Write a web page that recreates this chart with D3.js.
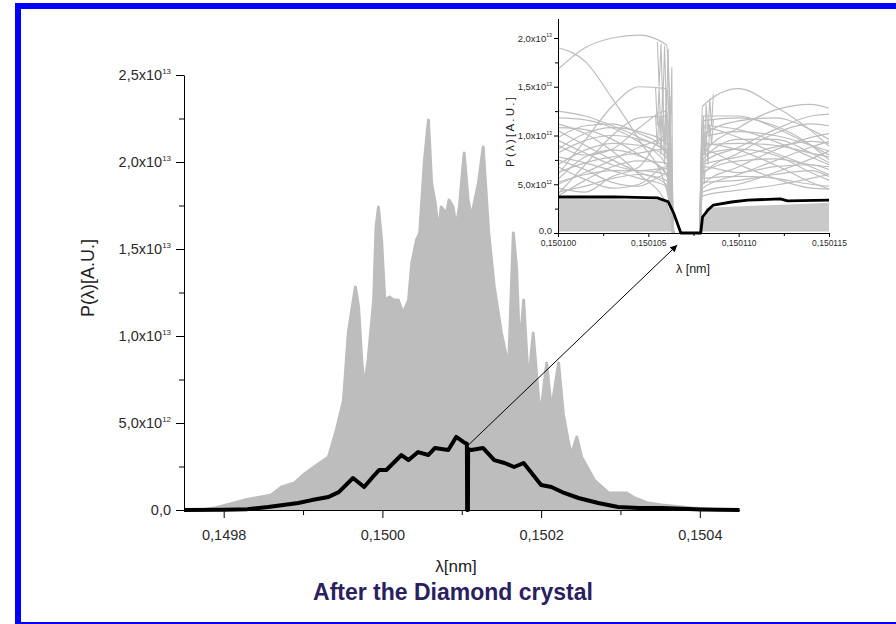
<!DOCTYPE html>
<html><head><meta charset="utf-8">
<script src="https://cdn.jsdelivr.net/npm/d3@7"></script>
<style>
body{margin:0;background:#fff}
svg{display:block}
text{font-family:"Liberation Sans",Arial,sans-serif}
</style>
</head><body>
<svg id="c" width="896" height="624"></svg>
<script>
// ---------------- DATA (values in units of 1e12) ----------------
const mainXTicks = [0.1498, 0.1500, 0.1502, 0.1504];
const mainXTickLabels = ["0,1498", "0,1500", "0,1502", "0,1504"];
const mainXMinor = [0.1499, 0.1501, 0.1503];
const mainYTicks = [0, 5, 10, 15, 20, 25];
const mainYMant = ["0,0", "5,0", "1,0", "1,5", "2,0", "2,5"];
const mainYExp = [null, "12", "13", "13", "13", "13"];
const mainYMinor = [2.5, 7.5, 12.5, 17.5, 22.5];

// upper envelope of the grey single-shot spectra (lambda [nm], P)
const shotsLambda = [0.14975,0.149772,0.149788,0.149826,0.14986,0.149873,0.149889,0.1499,0.149914,0.149932,0.149942,0.149951,0.149957,0.149962,0.149966,0.14997,0.149974,0.149977,0.149982,0.149989,0.149992,0.149995,0.149999,0.150003,0.150009,0.150014,0.15002,0.150026,0.150033,0.150037,0.150043,0.150047,0.150053,0.150058,0.150062,0.150066,0.150071,0.150074,0.150081,0.150084,0.150089,0.150093,0.150097,0.150103,0.150108,0.150112,0.150121,0.150127,0.150134,0.150141,0.15015,0.150159,0.150165,0.150169,0.150173,0.150178,0.150184,0.15019,0.150197,0.1502,0.150207,0.150213,0.150222,0.150228,0.150234,0.150238,0.150245,0.150251,0.150267,0.150285,0.150308,0.150318,0.150335,0.150352,0.15039,0.150427,0.15045];
const shotsMax = [0,0,0.11,0.57,0.86,1.32,1.55,2.01,2.47,3.05,4.6,6.32,10.17,11.67,12.82,11.67,8.62,7.07,8.62,12.07,16.26,17.41,15.52,12.07,12.24,12.07,12.07,11.32,12.07,14.19,15.52,15.92,20.11,22.41,18.79,17.82,15.92,17.41,17.07,17.82,17.41,16.26,17.41,20.52,17.82,16.84,18.79,20.86,15.92,12.82,10.17,8.22,15.92,13.97,9.19,12.07,7.24,10.17,6.32,5.75,8.45,5.75,8.45,5.52,4.02,3.16,4.2,3.05,1.72,0.98,0.98,0.69,0.4,0.29,0.11,0,0];

// averaged spectrum (black)
const meanLambda = [0.14975,0.1498,0.14983,0.149856,0.149894,0.149911,0.149932,0.149945,0.149963,0.149977,0.14999,0.149996,0.150005,0.150024,0.150033,0.150045,0.150058,0.150066,0.150083,0.150093,0.150102,0.1501065,0.1501068,0.1501078,0.150108,0.150112,0.150127,0.150141,0.150154,0.150166,0.150178,0.150188,0.1502,0.150213,0.150229,0.150247,0.150272,0.150297,0.150323,0.150352,0.150402,0.15045];
const meanP = [0,0.02,0.05,0.17,0.4,0.57,0.75,1.03,1.84,1.32,2.01,2.3,2.3,3.16,2.87,3.33,3.16,3.56,3.45,4.2,3.91,3.8,0,0,3.5,3.45,3.56,2.87,2.7,2.47,2.7,2.13,1.44,1.32,0.98,0.69,0.4,0.17,0.11,0.11,0.03,0];

// inset
const insetXTicks = [0.1501, 0.150105, 0.15011, 0.150115];
const insetXTickLabels = ["0,150100", "0,150105", "0,150110", "0,150115"];
const insetXMinor = [0.1501025, 0.1501075, 0.1501125];
const insetYTicks = [0, 5, 10, 15, 20];
const insetYMant = ["0,0", "5,0", "1,0", "1,5", "2,0"];
const insetYExp = [null, "12", "13", "13", "13"];
const insetYMinor = [2.5, 7.5, 12.5, 17.5];

const insetMeanLambda = [0.1501,0.1501031,0.1501055,0.1501061,0.1501064,0.1501068,0.1501079,0.150108,0.1501083,0.1501086,0.1501096,0.1501105,0.1501123,0.1501127,0.150115];
const insetMeanP = [3.69,3.7,3.6,3.2,2.05,0,0,1.64,2.36,2.87,3.18,3.38,3.49,3.3,3.38];

const insetLeftLambda = [0.1501, 0.1501015, 0.150103, 0.1501045, 0.150106, 0.1501064];
const insetLeftShots = [
  [16.8,19.0,20.0,20.3,19.3,0],
  [19.0,17.6,13.8,9.5,4.5,0],
  [6,9.5,13,15,14.8,0],
  [11.8,11.6,10.8,9.3,7,0],
  [4,7,10,11.8,12,0],
  [11.2,10.2,8.4,6,3,0],
  [9.8,11,11.2,10.2,8.5,0],
  [8.2,9.5,10,9.6,8.4,0],
  [10.5,9,7.5,6.2,5,0],
  [7.5,6.5,5.2,4.8,6,0],
  [5.5,7.8,8.5,7.9,6.2,0],
  [6.8,5.5,4.6,5,6.8,0],
  [3.8,5.4,6.8,7.4,7.2,0],
  [9.0,8,8.6,10.8,12.5,0],
  [4.6,4.2,5.8,6.8,10.0,0],
  [12.5,12.0,11.0,9.8,8.2,0],
  [7.0,8.5,9.2,9.0,7.8,0],
  [5.0,6.2,7.5,8.8,9.6,0],
  [9.5,8.2,7.0,6.4,6.6,0],
  [8.6,10.2,10.8,10.4,9.2,0],
  [6.2,7.2,7.8,8.2,8.6,0],
  [4.2,4.8,5.6,6.0,5.4,0],
  [10.8,10.6,9.6,8.0,6.0,0],
  [7.8,7.2,6.4,5.6,4.8,0],
  [5.2,6.0,6.4,6.4,6.0,0]
];
const insetRightLambda = [0.15010785, 0.150108, 0.15011, 0.150112, 0.150114, 0.150115];
const insetRightShots = [
  [0,13.0,14.8,13.0,10.5,8.9],
  [0,8,10.8,12.6,13.2,12.8],
  [0,11.5,11.8,11.0,9.0,7.5],
  [0,10,11.5,11.8,10.6,9.6],
  [0,6,8.2,10.2,11.2,11],
  [0,9.2,8.5,7,5.2,4.5],
  [0,5,6.8,8.5,9.8,10.2],
  [0,7.5,9.6,9.6,8.2,7.2],
  [0,4.2,5,6.2,7.6,8.4],
  [0,8.5,7,5.6,4.6,4.5],
  [0,6.8,6.2,6.8,7.0,6.5],
  [0,10.8,9.8,8.2,6.8,6],
  [0,3.8,4.4,4.9,5.6,6],
  [0,12,12,10.8,9,8],
  [0,9.8,10.4,10.0,9.0,8.4],
  [0,7.0,7.8,8.8,9.4,9.2],
  [0,5.6,5.8,5.6,5.0,4.8],
  [0,11.0,10.6,9.4,7.8,7.0],
  [0,6.2,7.4,7.6,7.0,6.8],
  [0,4.6,6.0,7.4,8.8,9.4],
  [0,8.0,8.6,8.0,6.2,5.4],
  [0,5.2,5.4,6.0,6.4,5.8],
  [0,7.2,8.8,10.6,12.0,12.2],
  [0,9.0,9.2,9.0,8.2,7.8]
];
// fast fringes at the edges of the notch
const fringeA = [[0.1501055,19.6],[0.1501056,15],[0.1501057,19.4],[0.1501058,13],[0.1501059,19.2],[0.150106,12],[0.1501061,18.9],[0.1501062,8],[0.1501063,17],[0.15010635,0]];
const fringeB = [[0.1501054,14.9],[0.1501055,11],[0.1501056,14.9],[0.1501057,10],[0.1501058,14.8],[0.1501059,9],[0.150106,14.7],[0.1501061,6],[0.1501062,14],[0.1501063,0]];
const fringeD = [[0.1501054,12.0],[0.1501055,9],[0.1501056,12.0],[0.1501057,8],[0.1501058,12.0],[0.1501059,7],[0.150106,12.0],[0.1501061,5],[0.1501062,11],[0.1501063,0]];
const fringeC = [[0.150107900,0],[0.1501079500,10],[0.150108,6],[0.1501080500,12],[0.1501081,8],[0.1501082,13.2],[0.1501083,10],[0.1501084,13.8],[0.1501085,11],[0.1501086,14.2]];
const fringeE = [[0.150107900,0],[0.150108,8],[0.1501081,5],[0.1501082,10.5],[0.1501083,7],[0.1501084,11.2],[0.1501085,9],[0.1501086,11.6]];
const insetBandLeft = [[0.1501,3.5],[0.150106,3.4],[0.1501064,0]];
const insetBandRight = [[0.15010785,0],[0.1501082,2.6],[0.150115,3.1]];

// ---------------- DRAWING ----------------
const svg = d3.select("#c");
const GREY = "#bdbdbd";
const TXT = "#2b2b2b";

// blue frame
svg.append("rect").attr("x",15).attr("y",3).attr("width",881).attr("height",6).attr("fill","#0000fe");
svg.append("rect").attr("x",15).attr("y",3).attr("width",6).attr("height",621).attr("fill","#0000fe");
svg.append("rect").attr("x",15).attr("y",622).attr("width",881).attr("height",2).attr("fill","#0000fe");

function sciText(sel, mant, exp, fs) {
  sel.text(null);
  sel.append("tspan").text(exp ? mant + "x10" : mant);
  if (exp) sel.append("tspan").attr("dy", -fs*0.45).attr("font-size", fs*0.55).text(exp);
}

// main scales
const x = d3.scaleLinear().domain([0.14975, 0.15045]).range([184, 739.5]);
const y = d3.scaleLinear().domain([0, 25]).range([510, 75]);

const main = svg.append("g");
const shots = shotsLambda.map((l,i)=>[l, shotsMax[i]]);
main.append("path").datum(shots)
  .attr("d", d3.area().x(d=>x(d[0])).y0(y(0)).y1(d=>y(d[1])))
  .attr("fill", GREY);
main.append("path").datum(shots)
  .attr("d", d3.line().x(d=>x(d[0])).y(d=>y(d[1])))
  .attr("fill","none").attr("stroke", GREY).attr("stroke-width",3).attr("stroke-linejoin","round");

const mean = meanLambda.map((l,i)=>[l, meanP[i]]);
main.append("path").datum(mean)
  .attr("d", d3.line().x(d=>x(d[0])).y(d=>y(d[1])))
  .attr("fill","none").attr("stroke","#000").attr("stroke-width",4).attr("stroke-linejoin","round");

const LF = 14.5;
const gx = main.append("g").attr("transform",`translate(0,${y(0)})`)
  .call(d3.axisBottom(x).tickValues(mainXTicks).tickSize(8).tickSizeOuter(0).tickFormat((d,i)=>mainXTickLabels[i]));
gx.selectAll("text").attr("font-size",LF).attr("fill",TXT).attr("dy","1.3em").attr("font-family","Liberation Sans, Arial");
const gxm = main.append("g").attr("transform",`translate(0,${y(0)})`)
  .call(d3.axisBottom(x).tickValues(mainXMinor).tickSize(5).tickFormat(""));
gxm.select(".domain").remove();

const gy = main.append("g").attr("transform",`translate(${x.range()[0]},0)`)
  .call(d3.axisLeft(y).tickValues(mainYTicks).tickSize(8).tickSizeOuter(0));
gy.selectAll(".tick text").each(function(d,i){
  const t = d3.select(this).attr("font-size",LF).attr("fill",TXT).attr("x",-13).attr("font-family","Liberation Sans, Arial");
  sciText(t, mainYMant[i], mainYExp[i], LF);
});
const gym = main.append("g").attr("transform",`translate(${x.range()[0]},0)`)
  .call(d3.axisLeft(y).tickValues(mainYMinor).tickSize(5).tickFormat(""));
gym.select(".domain").remove();

main.append("text").attr("transform","translate(94,278) rotate(-90)")
  .attr("text-anchor","middle").attr("font-size",18).attr("fill","#222").text("P(λ)[A.U.]");
main.append("text").attr("x",456).attr("y",572).attr("text-anchor","middle")
  .attr("font-size",17).attr("fill","#222").text("λ[nm]");
main.append("text").attr("x",453).attr("y",600).attr("text-anchor","middle")
  .attr("font-size",23).attr("font-weight","bold").attr("fill","#2a2060").text("After the Diamond crystal");

// inset
const ix = d3.scaleLinear().domain([0.1501, 0.150115]).range([558, 829]);
const iy = d3.scaleLinear().domain([0, 22]).range([233, 18.5]);
const ins = svg.append("g");
const band = d3.area().x(d=>ix(d[0])).y0(iy(0.15)).y1(d=>iy(d[1]));
ins.append("path").datum(insetBandLeft).attr("d", band).attr("fill","#c9c9c9");
ins.append("path").datum(insetBandRight).attr("d", band).attr("fill","#c9c9c9");
const sm = d3.line().x(d=>ix(d[0])).y(d=>iy(d[1])).curve(d3.curveMonotoneX);
insetLeftShots.forEach(s=>{
  ins.append("path").datum(insetLeftLambda.map((l,i)=>[l,s[i]])).attr("d", sm)
    .attr("fill","none").attr("stroke",GREY).attr("stroke-width",1.2);
});
insetRightShots.forEach(s=>{
  ins.append("path").datum(insetRightLambda.map((l,i)=>[l,s[i]])).attr("d", sm)
    .attr("fill","none").attr("stroke",GREY).attr("stroke-width",1.2);
});
const lin = d3.line().x(d=>ix(d[0])).y(d=>iy(d[1]));
[fringeA, fringeB, fringeC, fringeD, fringeE].forEach(f=>{
  ins.append("path").datum(f).attr("d", lin).attr("fill","none").attr("stroke",GREY).attr("stroke-width",1.1);
});
ins.append("path").datum(insetMeanLambda.map((l,i)=>[l, insetMeanP[i]])).attr("d", lin)
  .attr("fill","none").attr("stroke","#000").attr("stroke-width",2.8).attr("stroke-linejoin","round");

const igx = ins.append("g").attr("transform",`translate(0,${iy(0)})`)
  .call(d3.axisBottom(ix).tickValues(insetXTicks).tickSize(4).tickSizeOuter(0).tickFormat((d,i)=>insetXTickLabels[i]));
igx.selectAll("text").attr("font-size",8.5).attr("fill",TXT).attr("dy","0.7em").attr("font-family","Liberation Sans, Arial");
const igxm = ins.append("g").attr("transform",`translate(0,${iy(0)})`)
  .call(d3.axisBottom(ix).tickValues(insetXMinor).tickSize(3).tickFormat(""));
igxm.select(".domain").remove();
const igy = ins.append("g").attr("transform",`translate(${ix.range()[0]},0)`)
  .call(d3.axisLeft(iy).tickValues(insetYTicks).tickSize(4).tickSizeOuter(0));
igy.selectAll(".tick text").each(function(d,i){
  const t = d3.select(this).attr("font-size",9.5).attr("fill",TXT).attr("x",-6).attr("font-family","Liberation Sans, Arial");
  if (i === 0) t.attr("y", -2.5);
  sciText(t, insetYMant[i], insetYExp[i], 9.5);
});
const igym = ins.append("g").attr("transform",`translate(${ix.range()[0]},0)`)
  .call(d3.axisLeft(iy).tickValues(insetYMinor).tickSize(3).tickFormat(""));
igym.select(".domain").remove();
ins.append("text").attr("transform","translate(514,132) rotate(-90)").attr("text-anchor","middle")
  .attr("font-size",11.5).attr("fill","#222").attr("textLength",70).text("P(λ)[A.U.]");
ins.append("text").attr("x",693).attr("y",273).attr("text-anchor","middle")
  .attr("font-size",12.5).attr("fill","#222").text("λ [nm]");

// arrow from notch in the main spectrum to the inset
const defs = svg.append("defs");
defs.append("marker").attr("id","ah").attr("viewBox","0 0 10 10").attr("refX",10).attr("refY",5)
  .attr("markerWidth",9).attr("markerHeight",7).attr("markerUnits","userSpaceOnUse").attr("orient","auto")
  .append("path").attr("d","M0,0L10,5L0,10z").attr("fill","#000");
svg.append("line").attr("x1", x(0.1501075)+1).attr("y1", y(3.75)).attr("x2", ix(0.1501066)).attr("y2", iy(0)+12)
  .attr("stroke","#000").attr("stroke-width",1).attr("marker-end","url(#ah)");
</script>
</body></html>
